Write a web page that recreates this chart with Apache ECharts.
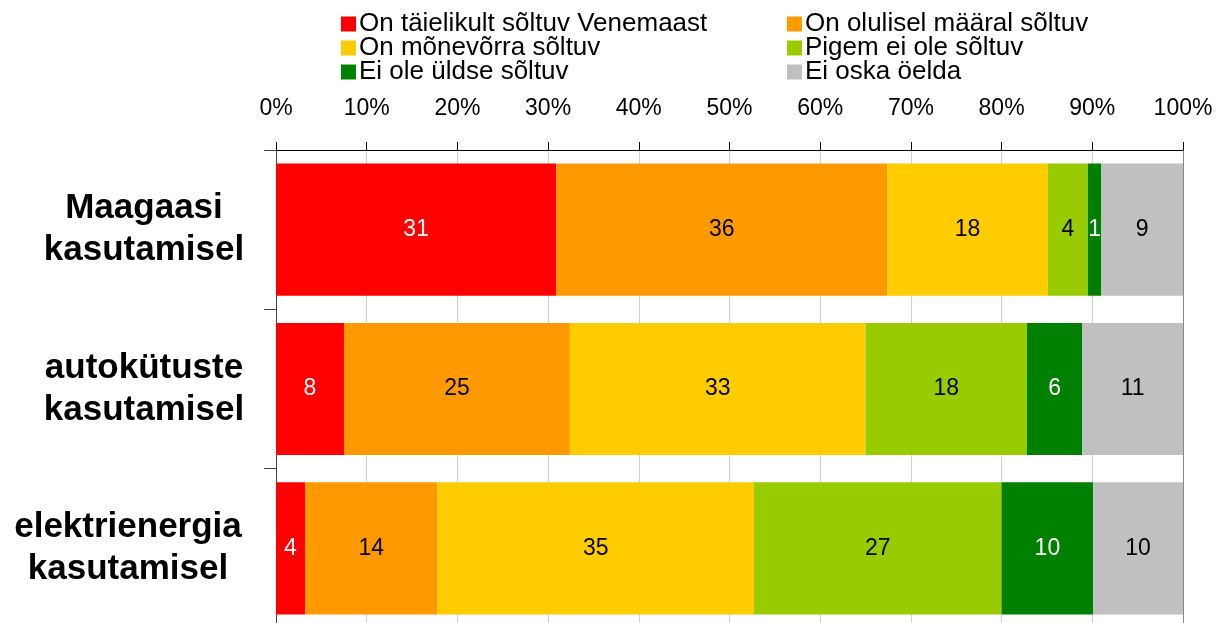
<!DOCTYPE html>
<html>
<head>
    <meta charset="utf-8">
    <title>Sõltuvus Venemaast</title>
    <script src="https://cdn.jsdelivr.net/npm/echarts@6/dist/echarts.min.js"></script>
    <style>
        html, body { margin: 0; padding: 0; background: #fff; }
    </style>
</head>
<body>
    <div id="chart" style="width: 1216px;height:623px;"></div>
    <script type="text/javascript">
        // kategooriad (ülevalt alla)
        var categories = ['Maagaasi\nkasutamisel', 'autokütuste\nkasutamisel', 'elektrienergia\nkasutamisel'];
        var seriesNames = ['On täielikult sõltuv Venemaast', 'On olulisel määral sõltuv', 'On mõnevõrra sõltuv',
                           'Pigem ei ole sõltuv', 'Ei ole üldse sõltuv', 'Ei oska öelda'];
        // osakaalud (%)
        var taielikult = [30.9, 7.5, 3.2];
        var olulisel = [36.5, 24.9, 14.6];
        var monevorra = [17.7, 32.6, 34.9];
        var pigemEi = [4.4, 17.8, 27.3];
        var uldseEi = [1.5, 6.1, 10.1];
        var eiOska = [9.0, 11.1, 9.9];
        // sildid tulpadel
        var taielikultLbl = [31, 8, 4];
        var oluliselLbl = [36, 25, 14];
        var monevorraLbl = [18, 33, 35];
        var pigemEiLbl = [4, 18, 27];
        var uldseEiLbl = [1, 6, 10];
        var eiOskaLbl = [9, 11, 10];
        var xTicks = [0, 10, 20, 30, 40, 50, 60, 70, 80, 90, 100];

        var colors = ['#FF0000', '#FF9900', '#FFCC00', '#99CC00', '#008000', '#C0C0C0'];
        var labelColors = ['#fff', '#000', '#000', '#000', '#fff', '#000'];
        var values = [taielikult, olulisel, monevorra, pigemEi, uldseEi, eiOska];
        var labels = [taielikultLbl, oluliselLbl, monevorraLbl, pigemEiLbl, uldseEiLbl, eiOskaLbl];

        var font = 'Liberation Sans, Arial, sans-serif';
        var yFont = { fontFamily: font, fontSize: 35, fontWeight: 'bold', color: '#000', lineHeight: 42 };

        var series = values.map(function (v, i) {
            return {
                name: seriesNames[i],
                type: 'bar',
                stack: 'kokku',
                barCategoryGap: '17%',
                itemStyle: { color: colors[i] },
                label: {
                    show: true,
                    position: 'inside',
                    color: labelColors[i],
                    fontFamily: font,
                    fontSize: 23,
                    formatter: function (p) { return labels[i][p.dataIndex]; }
                },
                data: v
            };
        });

        var legendBase = {
            orient: 'vertical',
            icon: 'rect',
            itemWidth: 15,
            itemHeight: 15,
            itemGap: -2,
            textStyle: { fontFamily: font, fontSize: 26, color: '#000', lineHeight: 20, padding: [0, 0, 0, -2] }
        };

        var myChart = echarts.init(document.getElementById('chart'));
        var option = {
            animation: false,
            legend: [
                Object.assign({}, legendBase, { left: 336, top: 6, data: [seriesNames[0], seriesNames[2], seriesNames[4]] }),
                Object.assign({}, legendBase, { left: 782, top: 6, data: [seriesNames[1], seriesNames[3], seriesNames[5]] })
            ],
            grid: { left: 276, right: 33, top: 150, height: 478, outerBoundsMode: 'none' },
            xAxis: {
                type: 'value',
                position: 'top',
                min: xTicks[0],
                max: xTicks[xTicks.length - 1],
                interval: 10,
                axisLine: { show: true, lineStyle: { color: '#000', width: 1 } },
                axisTick: { show: true, length: 8, lineStyle: { color: '#000' } },
                axisLabel: { formatter: '{value}%', fontFamily: font, fontSize: 23, color: '#000', margin: 30 },
                splitLine: { show: true, lineStyle: { color: '#d0d0d0' } }
            },
            yAxis: [{
                type: 'category',
                inverse: true,
                data: categories,
                axisLine: { show: true, lineStyle: { color: '#444' } },
                axisTick: { show: true, length: 12, lineStyle: { color: '#444' } },
                axisLabel: Object.assign({}, yFont, {
                    align: 'center',
                    margin: 132,
                    // pikk silt ei mahu keskele, nihutame vasakule
                    formatter: function (v, i) {
                        if (i !== 2) return v;
                        return v.split('\n').map(function (s) { return '{t|' + s + '}{g|}'; }).join('\n');
                    },
                    rich: { t: yFont, g: { width: 32 } }
                })
            }, {
                type: 'category',
                position: 'right',
                inverse: true,
                data: categories,
                axisLine: { show: true, lineStyle: { color: '#888' } },
                axisTick: { show: false },
                axisLabel: { show: false }
            }],
            series: series
        };
        myChart.setOption(option);
    </script>
</body>
</html>
